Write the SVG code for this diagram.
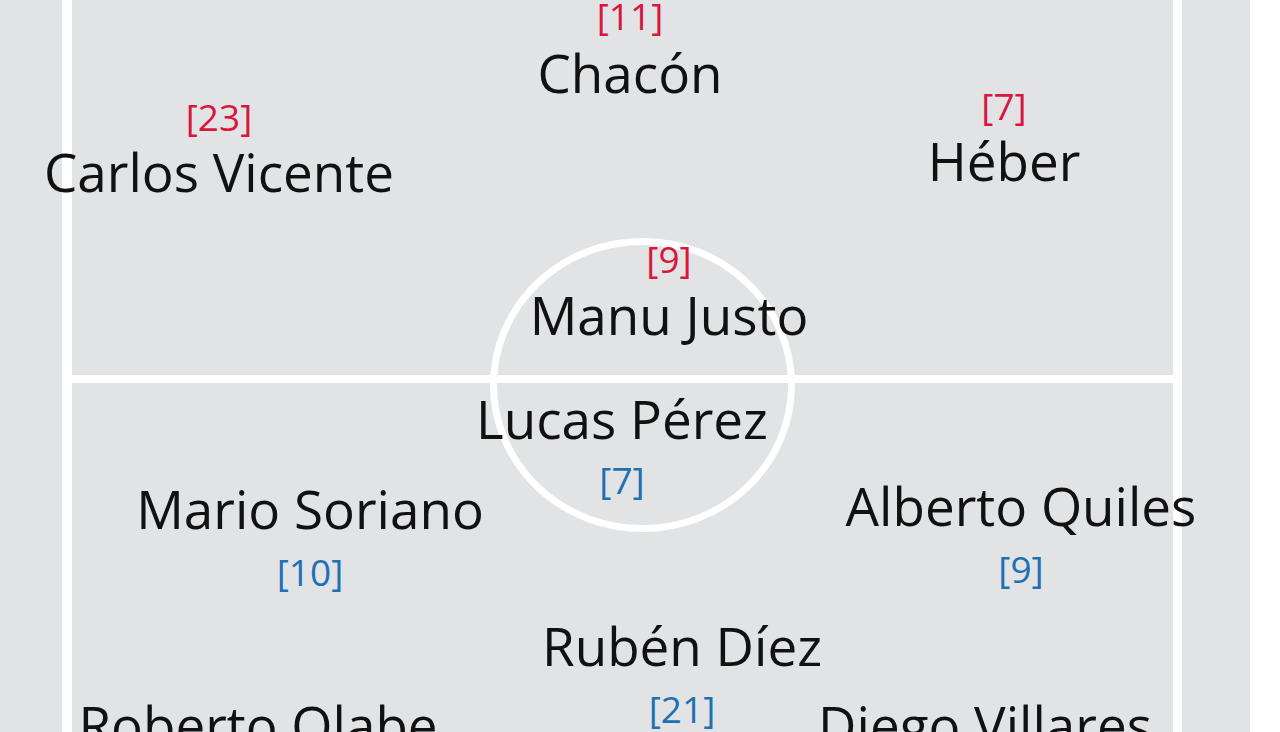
<svg xmlns="http://www.w3.org/2000/svg" width="1280" height="732" viewBox="0 0 1280 732">
<style>
.name{font-family:"Open Sans","Noto Sans",sans-serif;font-size:53px;fill:#111;text-anchor:middle}
.num{font-family:"Open Sans","Noto Sans",sans-serif;font-size:37px;text-anchor:middle}
.home{fill:#d8173f}
.away{fill:#1f70b2}
.line{stroke:#ffffff;fill:none}
</style>
<rect x="0" y="0" width="1280" height="732" fill="#ffffff"/>
<rect x="0" y="0" width="1250" height="732" fill="#e2e3e5"/>
<g id="pitch">
<line class="line" x1="67" y1="0" x2="67" y2="732" stroke-width="10"/>
<line class="line" x1="1177.5" y1="0" x2="1177.5" y2="732" stroke-width="9"/>
<line class="line" x1="67" y1="379" x2="1177" y2="379" stroke-width="8"/>
<ellipse class="line" cx="642.5" cy="385" rx="149" ry="143.5" stroke-width="7"/>
</g>
<g id="chacon"><text class="num home" x="630" y="30">[11]</text><text class="name" x="630" y="93">Chacón</text></g>
<g id="carlos-vicente"><text class="num home" x="219" y="131">[23]</text><text class="name" x="219" y="192">Carlos Vicente</text></g>
<g id="heber"><text class="num home" x="1004" y="120">[7]</text><text class="name" x="1004" y="181">Héber</text></g>
<g id="manu-justo"><text class="num home" x="669" y="273">[9]</text><text class="name" x="669" y="335">Manu Justo</text></g>
<g id="lucas-perez"><text class="name" x="622" y="439">Lucas Pérez</text><text class="num away" x="622" y="494">[7]</text></g>
<g id="mario-soriano"><text class="name" x="310" y="529">Mario Soriano</text><text class="num away" x="310" y="586">[10]</text></g>
<g id="alberto-quiles"><text class="name" x="1021" y="526">Alberto Quiles</text><text class="num away" x="1021" y="583">[9]</text></g>
<g id="ruben-diez"><text class="name" x="682" y="666">Rubén Díez</text><text class="num away" x="682" y="723">[21]</text></g>
<g id="roberto-olabe"><text class="name" x="258" y="745">Roberto Olabe</text></g>
<g id="diego-villares"><text class="name" x="985" y="745">Diego Villares</text></g>
<g id="connectors"/>
</svg>
